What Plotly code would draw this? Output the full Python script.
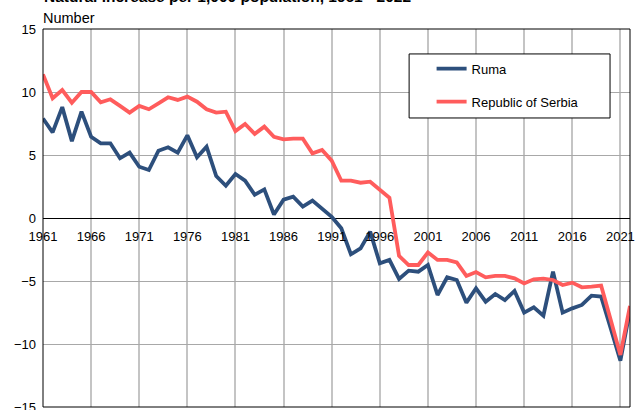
import plotly.graph_objects as go

years = list(range(1961, 2023))

ruma = [7.9, 6.8, 8.8, 6.1, 8.44, 6.45, 5.93, 5.93, 4.74, 5.19,
        4.07, 3.81, 5.34, 5.61, 5.19, 6.56, 4.82, 5.66, 3.33, 2.56,
        3.49, 2.96, 1.85, 2.27, 0.28, 1.45, 1.69, 0.9, 1.38, 0.77,
        0.1, -0.82, -2.88, -2.41, -1.08, -3.6, -3.33, -4.84, -4.18, -4.26,
        -3.73, -6.11, -4.71, -4.92, -6.72, -5.58, -6.64, -6.03, -6.51, -5.79,
        -7.51, -7.09, -7.75, -4.26, -7.51, -7.17, -6.9, -6.16, -6.24, -8.76,
        -11.32, -7.3]

serbia = [11.4, 9.5, 10.16, 9.15, 10.0, 10.0, 9.18, 9.42, 8.9, 8.36,
          8.9, 8.63, 9.1, 9.58, 9.37, 9.63, 9.23, 8.63, 8.36, 8.44,
          6.9, 7.46, 6.67, 7.25, 6.45, 6.24, 6.3, 6.3, 5.13, 5.4,
          4.55, 2.96, 2.96, 2.8, 2.88, 2.22, 1.61, -3.0, -3.73, -3.73,
          -2.73, -3.33, -3.33, -3.52, -4.6, -4.29, -4.71, -4.6, -4.6, -4.79,
          -5.19, -4.87, -4.81, -4.92, -5.32, -5.13, -5.5, -5.45, -5.37, -8.1,
          -10.87, -6.98]

x_ticks = list(range(1961, 2022, 5))
y_ticks = [-15, -10, -5, 0, 5, 10, 15]

BLUE = "#2D4F7C"
RED = "#FF5C5C"
FONT = "Liberation Sans, Arial, sans-serif"

fig = go.Figure()
fig.add_trace(go.Scatter(x=years, y=ruma, mode="lines", name="Ruma",
                         line=dict(color=BLUE, width=3.8), legend="legend"))
fig.add_trace(go.Scatter(x=years, y=serbia, mode="lines", name="Republic of Serbia",
                         line=dict(color=RED, width=3.8), legend="legend2"))

# white legend panel with black outline
fig.add_shape(type="rect", xref="paper", yref="paper",
              x0=0.6237, x1=0.966, y0=0.7646, y1=0.934,
              fillcolor="white", line=dict(color="black", width=1), layer="above")
# plot frame
fig.add_shape(type="rect", xref="paper", yref="paper", x0=0, x1=1, y0=0, y1=1,
              line=dict(color="black", width=1), layer="above")

fig.update_layout(
    width=644, height=410,
    margin=dict(l=43, r=14, t=29, b=3),
    paper_bgcolor="white", plot_bgcolor="white",
    font=dict(family=FONT, size=13, color="black"),
    xaxis=dict(range=[1961, 2022], tickvals=x_ticks, ticktext=[str(v) for v in x_ticks],
               anchor="free", position=0.5, showline=False, zeroline=False,
               showgrid=True, gridcolor="#C4C4C4", gridwidth=1.5, ticks="",
               ticklabelstandoff=9, automargin=False, tickfont=dict(size=13)),
    yaxis=dict(range=[-15, 15], tickvals=y_ticks, showline=False,
               zeroline=True, zerolinecolor="black", zerolinewidth=1,
               showgrid=True, gridcolor="#A8A8A8", gridwidth=1, ticks="",
               ticklabelstandoff=6, ticklabeloverflow="allow", automargin=False,
               tickfont=dict(size=13)),
    legend=dict(x=0.662, y=0.895, xanchor="left", yanchor="middle",
                bgcolor="rgba(0,0,0,0)", borderwidth=0, font=dict(size=13)),
    legend2=dict(x=0.662, y=0.808, xanchor="left", yanchor="middle",
                 bgcolor="rgba(0,0,0,0)", borderwidth=0, font=dict(size=13)),
    showlegend=True,
)

fig.add_annotation(text="<b>Natural increase per 1,000 population, 1961 - 2022</b>",
                   xref="paper", yref="paper", x=0, y=1, xanchor="left", yanchor="bottom",
                   xshift=-1, yshift=22, showarrow=False, font=dict(size=15.5))
fig.add_annotation(text="Number", xref="paper", yref="paper", x=0, y=1,
                   xanchor="left", yanchor="bottom", xshift=-2, yshift=1,
                   showarrow=False, font=dict(size=14.5))

fig.write_html("out.html")
